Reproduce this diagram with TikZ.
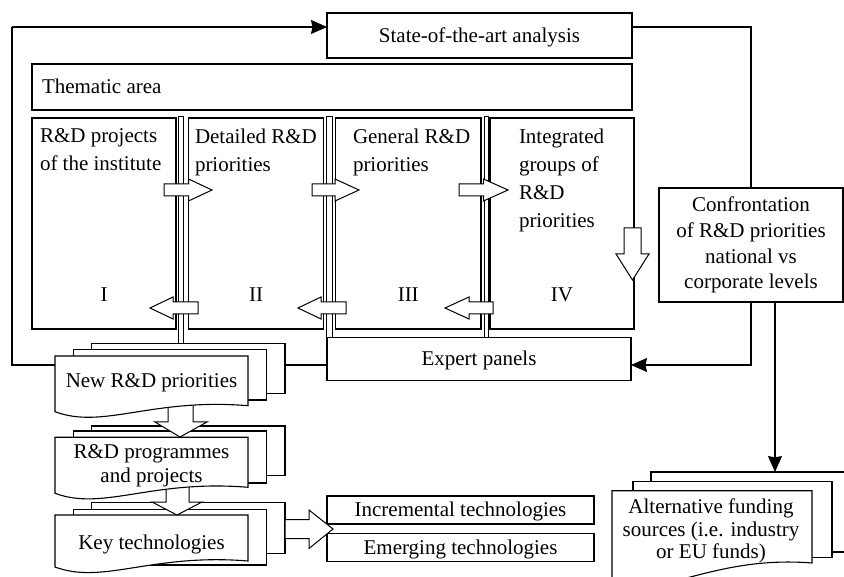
\documentclass[tikz,border=0pt]{standalone}
\usepackage{fontspec}
\setmainfont{Liberation Serif}
\usetikzlibrary{arrows.meta,calc}

% front sheet of a document stack: straight top and sides, wavy bottom
% #1 left, #2 top, #3 right, #4 bottom at left edge, #5 bottom at right edge
\newcommand\frontsheet[5]{%
  \filldraw[sheet] (#1,#2) -- (#3,#2) -- (#3,#5)
    .. controls ({#1+0.5*(#3-#1)},{#5-8}) and ({#1+0.25*(#3-#1)},{#4+18}) .. (#1,#4) -- cycle;}

% horizontal block arrow: #1 tail x, #2 head base x, #3 tip x, #4 centre y
\newcommand\hblock[4]{%
  \filldraw[blk] (#1,{#4-6}) -- (#2,{#4-6}) -- (#2,{#4-11}) -- (#3,#4)
    -- (#2,{#4+11}) -- (#2,{#4+6}) -- (#1,{#4+6}) -- cycle;}

\begin{document}
\begin{tikzpicture}[x=1pt,y=-1pt,line join=miter,
  every node/.style={font=\fontsize{21}{25}\selectfont, inner sep=0pt, outer sep=0pt},
  box/.style={draw, line width=1.1pt, fill=white, rectangle},
  capc/.style={text height=13.8pt, text depth=0pt},
  conn/.style={line width=1.1pt},
  tip/.style={-{Stealth[length=16pt,width=14pt,inset=1.5pt]}},
  sheet/.style={draw, line width=1.1pt, fill=white},
  blk/.style={draw, line width=1pt, fill=white},
  bar/.style={draw, line width=1pt, fill=white},
]
\useasboundingbox (0,0) rectangle (844,577);
\clip (0,0) rectangle (844,577);

% ---------- upper part ----------
\node[box, capc, minimum width=305pt, minimum height=45pt] (sota) at (479.5,35.5) {State-of-the-art analysis};
\node[box, minimum width=600pt, minimum height=46pt] (them) at (332,87) {};
\node[capc, anchor=west] (themtxt) at ($(them.west)+(10,0)$) {Thematic area};

% four priority columns
\node[box, minimum width=144pt, minimum height=211pt] (colI)   at (104,223.5) {};
\node[box, minimum width=135pt, minimum height=211pt] (colII)  at (256,223.5) {};
\node[box, minimum width=145.5pt, minimum height=211pt] (colIII) at (408.25,223.5) {};
\node[box, minimum width=144pt, minimum height=211pt] (colIV)  at (562,223.5) {};

\begin{scope}[every node/.append style={font=\fontsize{21}{28}\selectfont, align=left, anchor=north west}]
\node (tI)   at (40,129)  {R\&D projects\\of the institute};
\node (tII)  at (195,129) {Detailed R\&D\\priorities};
\node (tIII) at (353,129) {General R\&D\\priorities};
\node (tIV)  at (519,129) {Integrated\\groups of\\R\&D\\priorities};
\end{scope}
\node[capc] (nI)   at (colI.center |- 0,295)   {I};
\node[capc] (nII)  at (colII.center |- 0,295)  {II};
\node[capc] (nIII) at (colIII.center |- 0,295) {III};
\node[capc] (nIV)  at (colIV.center |- 0,295)  {IV};

% thin vertical bars between the columns
\filldraw[bar] (178.5,116.5) rectangle (183.5,343.3);
\filldraw[bar] (326.7,116.5) rectangle (332.5,337.3);
\filldraw[bar] (484,116.5) rectangle (488.5,337.3);

% flow arrows inside the thematic area
\hblock{164}{188.5}{212}{190}
\hblock{312}{335}{359}{190}
\hblock{459}{483.5}{508}{190}
\hblock{198}{173}{150}{308}
\hblock{346}{321}{298}{308}
\hblock{493}{469}{445}{308}
\filldraw[blk] (624,228) -- (641,228) -- (641,254) -- (649,254) -- (632.5,280)
  -- (616,254) -- (624,254) -- cycle;

% ---------- right-hand boxes ----------
\node[box, capc, minimum width=304pt, minimum height=43pt] (expert) at (479,358.7) {Expert panels};
\node[box, minimum width=184pt, minimum height=114pt, align=center,
      font=\fontsize{21}{25.7}\selectfont] (conf) at (751,245)
  {Confrontation\\of R\&D priorities\\national vs\\corporate levels};
\node[box, capc, minimum width=267pt, minimum height=28pt] (incr) at (460.5,510) {Incremental technologies};
\node[box, capc, minimum width=267pt, minimum height=28pt] (emer) at (460.5,547.3) {Emerging technologies};

% ---------- connectors ----------
\coordinate (nrL) at (55,365);
\coordinate (nrR) at (285,365);
\coordinate (loopC) at (12,27);
\coordinate (altTop) at (775,472);
\draw[conn] (nrL) -| (loopC);
\draw[conn,tip] (loopC) -- (loopC -| sota.west);
\draw[conn] (loopC -| sota.east) -| (conf.north);
\draw[conn,tip] (conf.south) |- (expert.east |- nrL);
\draw[conn,tip] (conf.south -| altTop) -- (altTop);
\draw[conn] (nrR) -- (nrR -| expert.west);

% ---------- document stacks, drawn bottom to top ----------
% key technologies
\filldraw[sheet] (91.7,502.7) rectangle (285,553.3);
\filldraw[sheet] (73.3,509.3) rectangle (266.7,565);
\frontsheet{55}{515}{248}{567}{561}
\node[capc] (keytech) at (151.5,542.5) {Key technologies};
% block arrow towards the technology boxes
\filldraw[blk] (285,519.5) -- (309,519.5) -- (309,510) -- (333,529) -- (309,548.5)
  -- (309,538.5) -- (285,538.5) -- cycle;
% arrow programmes -> key technologies
\filldraw[blk] (166,482) -- (189,482) -- (189,502) -- (202,502) -- (177,515)
  -- (152,502) -- (166,502) -- cycle;
% R&D programmes and projects
\filldraw[sheet] (91.7,426) rectangle (285,475.7);
\filldraw[sheet] (73.3,431) rectangle (266.7,483);
\frontsheet{55}{437.3}{248}{493.3}{487.3}
\node[align=center, font=\fontsize{21}{24}\selectfont] (prog) at (151.5,466) {R\&D programmes\\and projects};
% arrow new priorities -> programmes
\filldraw[blk] (168,400) -- (193,400) -- (193,422) -- (207,422) -- (180,437)
  -- (155,422) -- (168,422) -- cycle;
% new R&D priorities
\filldraw[sheet] (91.7,343.3) rectangle (285,393.3);
\filldraw[sheet] (73.3,349.3) rectangle (266.7,400);
\frontsheet{55}{356}{248}{411.7}{405.7}
\node[capc] (newrd) at (151.5,381) {New R\&D priorities};

% alternative funding sources
\filldraw[sheet] (651,472) rectangle (870,552);
\filldraw[sheet] (633,481.7) rectangle (832,557.3);
\frontsheet{612}{490.7}{812}{582}{563}
\node[align=center, font=\fontsize{21}{22.5}\selectfont] (alt) at (711,531)
  {Alternative funding\\sources (i.e. industry\\or EU funds)};
\end{tikzpicture}
\end{document}
